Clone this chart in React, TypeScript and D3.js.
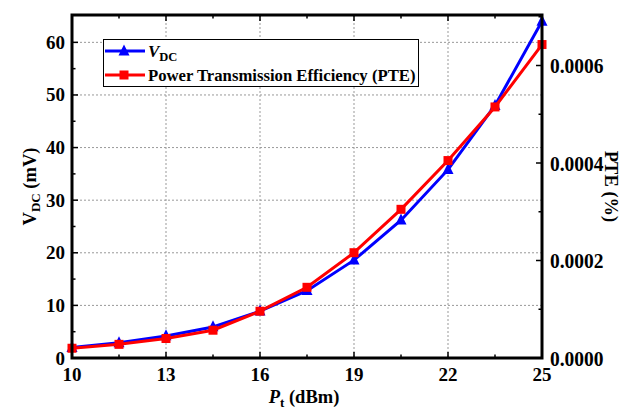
import React from "react";
import * as d3 from "d3";

const pt: number[] = [10, 11.5, 13, 14.5, 16, 17.5, 19, 20.5, 22, 23.5, 25];
const vdc: number[] = [2.0, 2.9, 4.2, 5.9, 8.9, 12.8, 18.6, 26.2, 35.8, 48.0, 64.0];
const pte: number[] = [0.00002, 0.000028, 0.00004, 0.000057, 0.000096, 0.000145, 0.000216, 0.000305, 0.000405, 0.000515, 0.000643];
const xTicks: number[] = [10, 13, 16, 19, 22, 25];
const xMinor: number[] = [11.5, 14.5, 17.5, 20.5, 23.5];
const yLTicks: number[] = [0, 10, 20, 30, 40, 50, 60];
const yLMinor: number[] = [5, 15, 25, 35, 45, 55];
const yRTicks: number[] = [0, 0.0002, 0.0004, 0.0006];
const yRMinor: number[] = [0.0001, 0.0003, 0.0005, 0.0007];

const W = 624, H = 412;
const L = 72, R = 542, T = 15, B = 358;
const FONT = "'Liberation Serif', 'Times New Roman', Times, 'DejaVu Serif', serif";

export default function App() {
  const x = d3.scaleLinear().domain([10, 25]).range([L, R]);
  const yL = d3.scaleLinear().domain([0, 65.2]).range([B, T]);
  const yR = d3.scaleLinear().domain([0, 0.0007036]).range([B, T]);

  const lineV = d3.line<number>().x((_, i) => x(pt[i])).y((d) => yL(d));
  const lineP = d3.line<number>().x((_, i) => x(pt[i])).y((d) => yR(d));

  const tri = (cx: number, cy: number, s: number) =>
    `M${cx},${cy - s * 0.6}L${cx + s / 2},${cy + s * 0.4}L${cx - s / 2},${cy + s * 0.4}Z`;

  const grid = "#999";
  const major = 6, minor = 3.5;

  return (
    <svg width={W} height={H} style={{ position: "absolute", left: 0, top: 0, background: "#fff", fontFamily: FONT }}>
      <rect x={0} y={0} width={W} height={H} fill="#fff" />
      {/* grid */}
      {xTicks.filter((t) => t > 10 && t < 25).map((t) => (
        <line key={"gx" + t} x1={x(t)} x2={x(t)} y1={T} y2={B} stroke={grid} strokeWidth={1} strokeDasharray="2,2" />
      ))}
      {yLTicks.filter((t) => t > 0).map((t) => (
        <line key={"gy" + t} x1={L} x2={R} y1={yL(t)} y2={yL(t)} stroke={grid} strokeWidth={1} strokeDasharray="2,2" />
      ))}
      {/* legend */}
      <g>
        <rect x={103.5} y={39.5} width={315} height={47} fill="#fff" stroke="#000" strokeWidth={1} />
        <line x1={105} x2={145} y1={51} y2={51} stroke="#0000ff" strokeWidth={3} />
        <path d={tri(124, 51, 11)} fill="#0000ff" />
        <text x={148} y={57} fontSize={17} fontWeight="bold" style={{ fontFamily: FONT }}>
          <tspan fontStyle="italic">V</tspan>
          <tspan fontSize={12.5} dy={4}>DC</tspan>
        </text>
        <line x1={105} x2={145} y1={75} y2={75} stroke="#ff0000" strokeWidth={3} />
        <rect x={119.5} y={70.5} width={9} height={9} fill="#ff0000" />
        <text x={148} y={81} fontSize={16.7} fontWeight="bold" style={{ fontFamily: FONT }}>Power Transmission Efficiency (PTE)</text>
      </g>
      {/* data */}
      <path d={lineV(vdc) || ""} fill="none" stroke="#0000ff" strokeWidth={3} />
      {vdc.map((v, i) => (
        <path key={"t" + i} d={tri(x(pt[i]), yL(v), 11)} fill="#0000ff" />
      ))}
      <path d={lineP(pte) || ""} fill="none" stroke="#ff0000" strokeWidth={3} />
      {pte.map((v, i) => (
        <rect key={"s" + i} x={x(pt[i]) - 4.5} y={yR(v) - 4.5} width={9} height={9} fill="#ff0000" />
      ))}
      {/* ticks */}
      <g stroke="#000" strokeWidth={1.5}>
        {xTicks.map((t) => (
          <g key={"xt" + t}>
            <line x1={x(t)} x2={x(t)} y1={B} y2={B - major} />
            <line x1={x(t)} x2={x(t)} y1={T} y2={T + major} />
          </g>
        ))}
        {xMinor.map((t) => (
          <g key={"xm" + t}>
            <line x1={x(t)} x2={x(t)} y1={B} y2={B - minor} />
            <line x1={x(t)} x2={x(t)} y1={T} y2={T + minor} />
          </g>
        ))}
        {yLTicks.map((t) => (
          <line key={"ylt" + t} x1={L} x2={L + major} y1={yL(t)} y2={yL(t)} />
        ))}
        {yLMinor.map((t) => (
          <line key={"ylm" + t} x1={L} x2={L + minor} y1={yL(t)} y2={yL(t)} />
        ))}
        {yRTicks.map((t) => (
          <line key={"yrt" + t} x1={R} x2={R - major} y1={yR(t)} y2={yR(t)} />
        ))}
        {yRMinor.map((t) => (
          <line key={"yrm" + t} x1={R} x2={R - minor} y1={yR(t)} y2={yR(t)} />
        ))}
      </g>
      {/* frame */}
      <rect x={L} y={T} width={R - L} height={B - T} fill="none" stroke="#000" strokeWidth={3} />
      {/* tick labels */}
      <g fontSize={19} fontWeight="bold" fill="#000" style={{ fontFamily: FONT }}>
        {xTicks.map((t) => (
          <text key={"xl" + t} x={x(t)} y={381} textAnchor="middle">{t}</text>
        ))}
        {yLTicks.map((t) => (
          <text key={"yll" + t} x={65} y={yL(t) + 6.5} textAnchor="end">{t}</text>
        ))}
        {yRTicks.map((t) => (
          <text key={"yrl" + t} transform={`translate(550,${yR(t) + 7.5}) scale(1,1.12)`} fontSize={19.5} textAnchor="start">{d3.format(".4f")(t)}</text>
        ))}
      </g>
      {/* axis titles */}
      <text x={304} y={403} fontSize={18.5} fontWeight="bold" textAnchor="middle" style={{ fontFamily: FONT }}>
        <tspan fontStyle="italic">P</tspan>
        <tspan fontSize={13} dy={4}>t</tspan>
        <tspan dy={-4}> (dBm)</tspan>
      </text>
      <text transform={`translate(36,${(T + B) / 2}) rotate(-90)`} fontSize={18.5} fontWeight="bold" textAnchor="middle" style={{ fontFamily: FONT }}>
        <tspan>V</tspan>
        <tspan fontSize={13} dy={4}>DC</tspan>
        <tspan dy={-4}> (mV)</tspan>
      </text>
      <text transform={`translate(605,${(T + B) / 2}) rotate(90)`} fontSize={18.5} fontWeight="bold" textAnchor="middle" style={{ fontFamily: FONT }}>
        PTE (%)
      </text>
    </svg>
  );
}
